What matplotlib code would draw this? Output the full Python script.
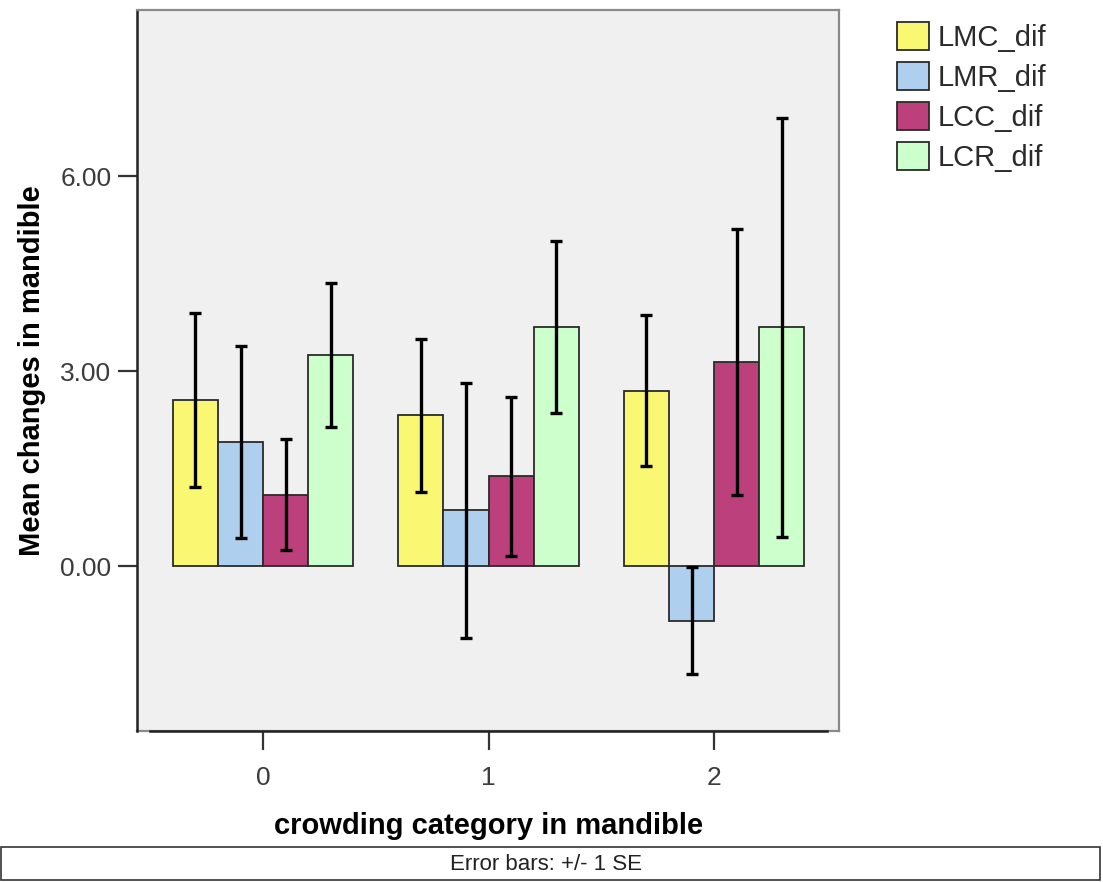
import numpy as np
import matplotlib.pyplot as plt
from matplotlib.patches import Rectangle

plt.rcParams['font.family'] = ['Liberation Sans', 'DejaVu Sans']

categories = ['0', '1', '2']
series = ['LMC_dif', 'LMR_dif', 'LCC_dif', 'LCR_dif']
colors = ['#FAF772', '#AED0EE', '#BC407B', '#CCFFCC']

# means and standard errors per series, one value per crowding category
means = {
    'LMC_dif': [2.56, 2.32, 2.70],
    'LMR_dif': [1.91, 0.86, -0.84],
    'LCC_dif': [1.10, 1.38, 3.14],
    'LCR_dif': [3.25, 3.68, 3.67],
}
ses = {
    'LMC_dif': [1.34, 1.18, 1.16],
    'LMR_dif': [1.48, 1.96, 0.82],
    'LCC_dif': [0.85, 1.22, 2.05],
    'LCR_dif': [1.11, 1.32, 3.22],
}
yticks = [0.0, 3.0, 6.0]

fig = plt.figure(figsize=(11.03, 8.82), dpi=100)
ax = fig.add_axes([137 / 1103, 151 / 882, 702 / 1103, 721 / 882])
ax.set_facecolor('#F0F0F0')

x = np.arange(len(categories))
w = 0.2
for i, (name, col) in enumerate(zip(series, colors)):
    pos = x + (i - 1.5) * w
    ax.bar(pos, means[name], w, color=col, edgecolor='#2a2a2a', linewidth=1.3,
           label=name, zorder=2)
    ax.errorbar(pos, means[name], yerr=ses[name], fmt='none', ecolor='black',
                elinewidth=2.4, capsize=4.5, capthick=2.4, zorder=3)

ax.set_xlim(-0.559, 2.554)
ax.set_ylim(-2.538, 8.554)
ax.set_xticks(x)
ax.set_xticklabels(categories)
ax.set_yticks(yticks)
ax.set_yticklabels(['%.2f' % v for v in yticks])
ax.tick_params(axis='both', length=13.5, width=1.6, color='#333333',
               labelsize=19, labelcolor='#3c3c3c')
ax.tick_params(axis='y', pad=5)
ax.tick_params(axis='x', pad=12)

for s in ['top', 'right']:
    ax.spines[s].set_color('#8a8a8a')
    ax.spines[s].set_linewidth(1.6)
ax.spines['left'].set_color('#222222')
ax.spines['left'].set_linewidth(1.8)
ax.spines['bottom'].set_color('#222222')
ax.spines['bottom'].set_linewidth(1.8)
ax.spines['bottom'].set_bounds(-0.5, 2.5)
ax.axhline(-2.538, color='#8a8a8a', linewidth=1.6, zorder=0, clip_on=False)

ax.set_xlabel('crowding category in mandible', fontsize=21, fontweight='bold')
ax.set_ylabel('Mean changes in mandible', fontsize=21, fontweight='bold')
ax.xaxis.set_label_coords(0.501, -0.112)
ax.yaxis.set_label_coords(-0.13, 0.5)

leg = fig.legend(loc='upper left', bbox_to_anchor=(885 / 1103, 1 - 10 / 882),
                 frameon=False, fontsize=21, handlelength=1.1,
                 handleheight=1.1, handletextpad=0.3, labelspacing=0.35,
                 borderaxespad=0)
for t in leg.get_texts():
    t.set_color('#2a2a2a')

fig.patches.append(Rectangle((1 / 1103, 2 / 882), 1099 / 1103, 33 / 882,
                             transform=fig.transFigure, fill=False,
                             edgecolor='#333333', linewidth=1.2))
fig.text(0.495, 18 / 882, 'Error bars: +/- 1 SE', ha='center', va='center',
         fontsize=16, color='#222222')

fig.savefig('out.png', dpi=100)
